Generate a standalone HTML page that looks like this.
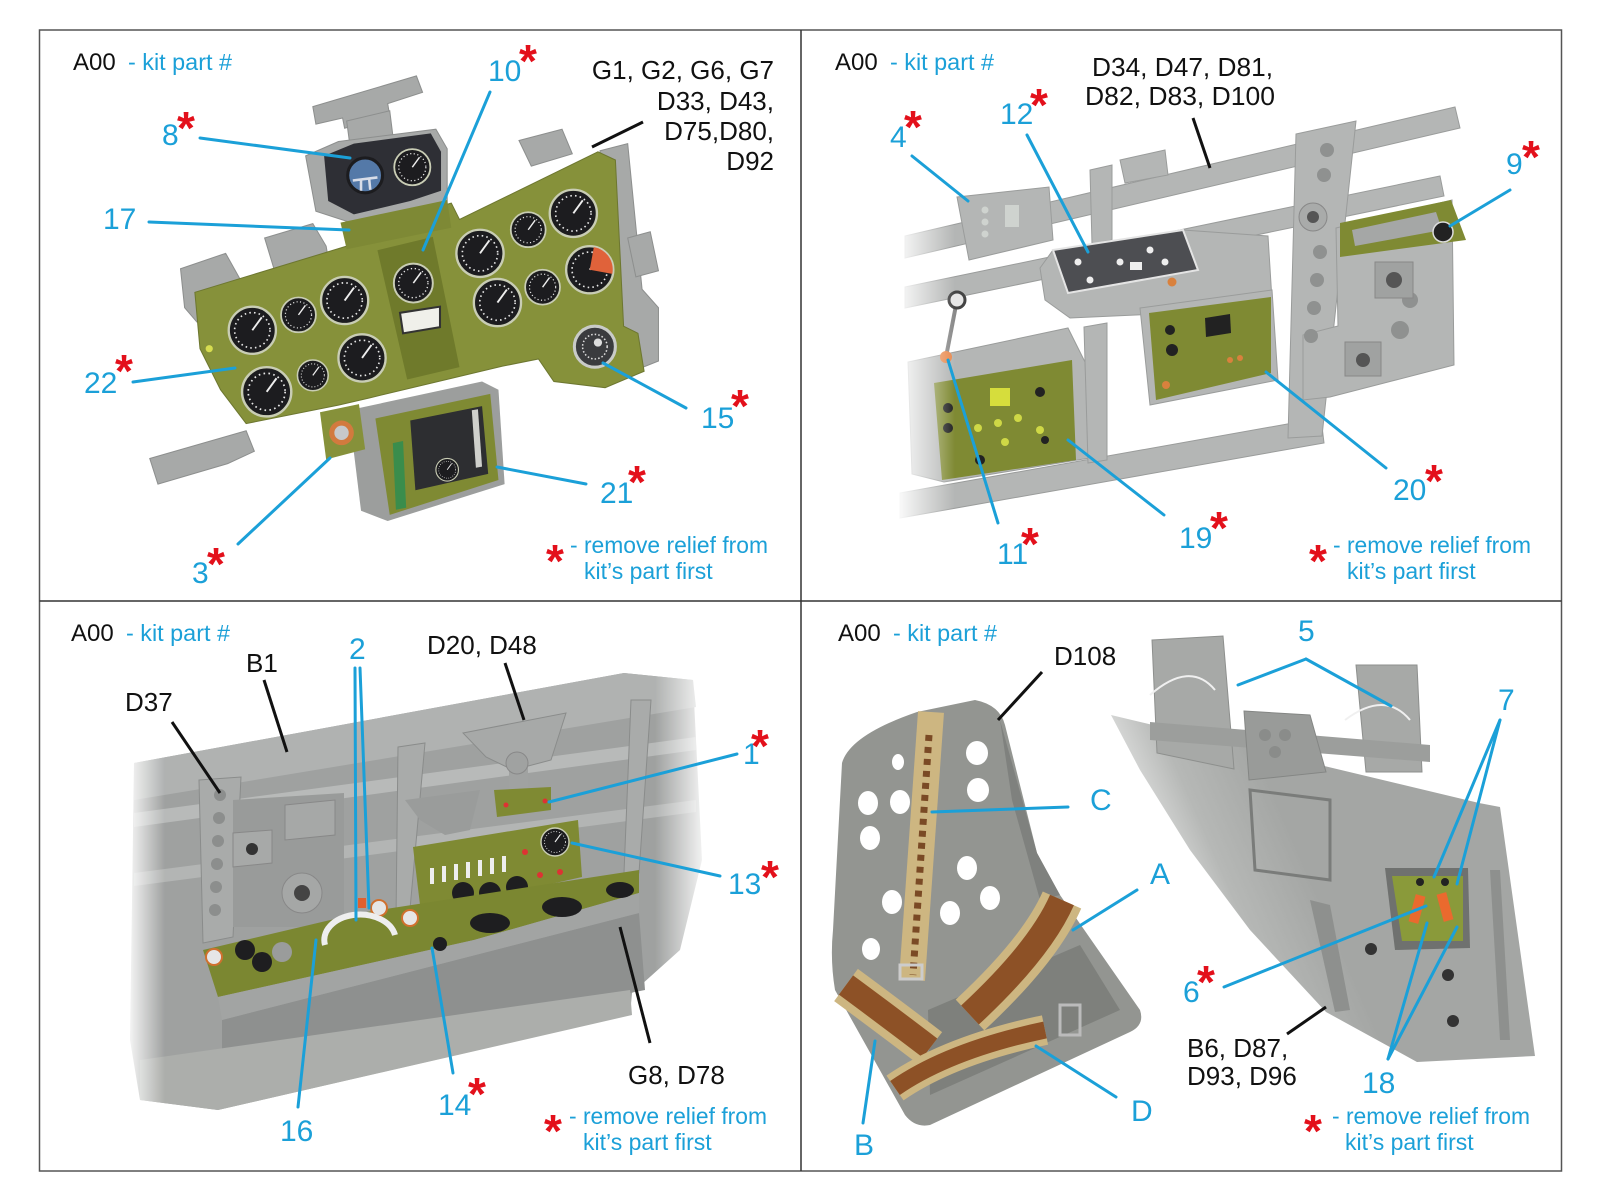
<!DOCTYPE html>
<html><head><meta charset="utf-8">
<style>
html,body{margin:0;padding:0;background:#fff;}
svg{display:block;}
.n{font-family:"Liberation Sans",Arial,sans-serif;font-size:30px;fill:#1ba0d8;}
.k{font-family:"Liberation Sans",Arial,sans-serif;font-size:26px;fill:#111;}
.h{font-family:"Liberation Sans",Arial,sans-serif;font-size:24px;fill:#111;}
.c{font-family:"Liberation Sans",Arial,sans-serif;font-size:23px;fill:#1ba0d8;}
.r{font-family:"Liberation Sans",Arial,sans-serif;font-size:23px;fill:#1ba0d8;}
.a{font-family:"Liberation Sans",Arial,sans-serif;font-size:46px;font-weight:bold;fill:#e3101b;text-anchor:middle;}
.l{stroke:#1ba0d8;stroke-width:3;stroke-linecap:round;fill:none;}
.bl{stroke:#111;stroke-width:3;fill:none;}
</style></head>
<body>
<svg width="1600" height="1200" viewBox="0 0 1600 1200" xmlns="http://www.w3.org/2000/svg" xmlns:xlink="http://www.w3.org/1999/xlink">
<defs>
  <g id="gg">
    <circle r="20" fill="#1c1c1f" stroke="#c9cdb5" stroke-width="2"/>
    <circle r="15" fill="none" stroke="#e8e8e8" stroke-width="1.4" stroke-dasharray="1.3 2.7"/>
    <line x1="0" y1="0" x2="8" y2="-11" stroke="#eee" stroke-width="1.6"/>
  </g>
  <linearGradient id="fadeL" x1="0" x2="1" y1="0" y2="0">
    <stop offset="0" stop-color="#fff" stop-opacity="1"/>
    <stop offset="1" stop-color="#fff" stop-opacity="0"/>
  </linearGradient>
  <linearGradient id="fadeR" x1="0" x2="1" y1="0" y2="0">
    <stop offset="0" stop-color="#fff" stop-opacity="0"/>
    <stop offset="1" stop-color="#fff" stop-opacity="1"/>
  </linearGradient>
  <linearGradient id="boardG" gradientUnits="userSpaceOnUse" x1="1130" y1="900" x2="1290" y2="830">
    <stop offset="0" stop-color="#ffffff"/>
    <stop offset="0.55" stop-color="#b6b8b6"/>
    <stop offset="1" stop-color="#a4a6a4"/>
  </linearGradient>
</defs>

<!-- ============ Q1 photo ============ -->
<g transform="scale(1.02564)">
  <g fill="#a7a9a8" stroke="#8d8f8e" stroke-width="1">
    <polygon points="305,104 406,74 412,90 378,101 380,113 336,125 334,115 308,121"/>
    <polygon points="338,118 380,108 384,140 342,148"/>
    <polygon points="298,152 330,138 425,126 436,145 436,198 345,218 308,206"/>
    <polygon points="176,262 220,247 234,272 234,300 192,314 180,300"/>
    <polygon points="258,232 305,218 318,240 320,252 268,265"/>
    <polygon points="506,137 548,126 558,150 518,162"/>
    <polygon points="585,147 612,140 626,282 642,300 642,352 622,360 606,322"/>
    <polygon points="146,447 240,420 248,440 222,452 154,472"/>
    <polygon points="612,232 634,226 642,264 620,270"/>
  </g>
  <polygon points="190,285 338,240 343,226 440,198 448,214 583,148 600,156 608,318 622,325 628,362 590,378 540,372 525,350 490,357 360,388 330,395 240,413 215,380 195,340" fill="#86913a" stroke="#6d7730" stroke-width="1"/>
  <polygon points="332,217 436,195 440,222 338,243" fill="#7e8935"/>
  <polygon points="316,152 345,140 420,130 430,148 430,186 400,196 345,209 320,196" fill="#2e2f35"/>
  <circle cx="356" cy="171" r="17" fill="#5479a8" stroke="#1c1c1f" stroke-width="3"/>
  <path d="M344,176 L368,173 M352,176 L352,186 M360,175 L361,185" stroke="#d8dde8" stroke-width="2.5" fill="none"/>
  <use xlink:href="#gg" href="#gg" transform="translate(402 163) scale(0.88)"/>
  <polygon points="368,244 422,231 448,358 397,370" fill="#6f7a2b"/>
  <use xlink:href="#gg" href="#gg" transform="translate(403 276) scale(0.95)"/>
  <polygon points="390,305 429,299 429,319 393,325" fill="#f0f0ea" stroke="#333" stroke-width="2"/>
  <use xlink:href="#gg" href="#gg" transform="translate(246 322) scale(1.15)"/>
  <use xlink:href="#gg" href="#gg" transform="translate(291 307) scale(0.85)"/>
  <use xlink:href="#gg" href="#gg" transform="translate(336 293) scale(1.15)"/>
  <use xlink:href="#gg" href="#gg" transform="translate(260 382) scale(1.2)"/>
  <use xlink:href="#gg" href="#gg" transform="translate(305 366) scale(0.75)"/>
  <use xlink:href="#gg" href="#gg" transform="translate(353 349) scale(1.15)"/>
  <use xlink:href="#gg" href="#gg" transform="translate(468 247) scale(1.15)"/>
  <use xlink:href="#gg" href="#gg" transform="translate(515 224) scale(0.85)"/>
  <use xlink:href="#gg" href="#gg" transform="translate(559 208) scale(1.15)"/>
  <use xlink:href="#gg" href="#gg" transform="translate(485 295) scale(1.15)"/>
  <use xlink:href="#gg" href="#gg" transform="translate(529 280) scale(0.85)"/>
  <use xlink:href="#gg" href="#gg" transform="translate(575 263) scale(1.15)"/>
  <path d="M575,263 L579,241 A22,22 0 0 1 597,267 Z" fill="#e0623a"/>
  <circle cx="580" cy="338" r="20" fill="#3a3b3e" stroke="#c9cbc8" stroke-width="3"/>
  <circle cx="580" cy="338" r="12" fill="none" stroke="#ddd" stroke-width="1.5" stroke-dasharray="1.5 2"/>
  <circle cx="583" cy="334" r="4" fill="#ddd"/>
  <circle cx="204" cy="340" r="3.5" fill="#d7dd50"/>
  <polygon points="340,400 470,372 486,380 492,472 378,508 352,498" fill="#9c9e9d"/>
  <polygon points="366,408 478,384 486,468 380,502" fill="#7f8a33"/>
  <polygon points="400,410 470,396 476,462 405,478" fill="#2d2e31"/>
  <polygon points="383,432 393,430 396,495 386,497" fill="#3a8d4c"/>
  <use xlink:href="#gg" href="#gg" transform="translate(436 458) scale(0.55)"/>
  <polygon points="460,400 466,399 470,455 464,456" fill="#cfd0cc"/>
  <polygon points="312,402 350,394 356,438 318,448" fill="#86913a"/>
  <circle cx="333" cy="422" r="12" fill="#d27a3e"/>
  <circle cx="333" cy="422" r="7" fill="#c7c9cb"/>
</g>

<!-- ============ Q2 photo ============ -->
<g fill="#b4b6b5" stroke="#9a9c9b" stroke-width="1">
  <polygon points="905,236 1455,107 1460,128 905,258"/>
  <polygon points="905,287 1440,176 1444,196 905,308"/>
  <polygon points="900,493 1321,418 1324,443 900,518"/>
  <polygon points="1120,160 1165,150 1168,175 1125,183"/>
  <polygon points="1090,170 1112,165 1112,240 1092,244"/>
  <polygon points="1296,134 1356,121 1322,436 1288,438"/>
  <polygon points="1336,228 1452,200 1454,365 1330,397 1303,400 1303,335 1338,326"/>
  <polygon points="1040,268 1053,250 1183,230 1268,236 1272,300 1200,312 1070,318 1045,300"/>
  <polygon points="908,362 1068,328 1085,362 1090,458 944,482 912,474"/>
  <polygon points="1140,308 1272,290 1278,380 1150,405"/>
  <polygon points="1084,327 1107,323 1107,460 1088,463"/>
  <polygon points="957,197 1049,187 1053,240 969,260"/>
</g>
<g fill="#8f9190">
  <circle cx="1327" cy="150" r="7"/><circle cx="1324" cy="175" r="7"/>
  <circle cx="1320" cy="252" r="7"/><circle cx="1317" cy="280" r="7"/>
  <circle cx="1314" cy="308" r="7"/><circle cx="1311" cy="336" r="7"/>
  <circle cx="1400" cy="330" r="9"/><circle cx="1410" cy="300" r="8"/>
</g>
<circle cx="1313" cy="217" r="14" fill="#a9abaa" stroke="#888" stroke-width="1"/>
<circle cx="1313" cy="217" r="6" fill="#555"/>
<rect x="1375" y="262" width="38" height="36" fill="#a0a2a1" stroke="#888"/>
<circle cx="1394" cy="280" r="8" fill="#555"/>
<rect x="1345" y="342" width="36" height="34" fill="#a0a2a1" stroke="#888"/>
<circle cx="1363" cy="360" r="7" fill="#555"/>
<polygon points="1340,223 1451,200 1466,240 1340,257" fill="#7f8a33"/>
<polygon points="1352,230 1436,212 1442,230 1355,246" fill="#a5a7a6"/>
<circle cx="1443" cy="232" r="10" fill="#222" stroke="#ddd" stroke-width="1.5"/>
<polygon points="1053,250 1183,230 1198,270 1068,293" fill="#4d4e52" stroke="#e4e4e4" stroke-width="2"/>
<g fill="#eee"><circle cx="1078" cy="262" r="3.5"/><circle cx="1090" cy="280" r="3.5"/><circle cx="1120" cy="262" r="3.5"/><circle cx="1150" cy="250" r="3.5"/><circle cx="1165" cy="262" r="3.5"/><rect x="1130" y="262" width="12" height="8"/></g>
<circle cx="1172" cy="282" r="4.5" fill="#d9813d"/>
<g fill="#cfd3cf"><circle cx="985" cy="210" r="3.5"/><circle cx="985" cy="222" r="3.5"/><circle cx="985" cy="234" r="3.5"/><rect x="1005" y="205" width="14" height="22"/></g>
<polygon points="934,383 1072,360 1076,460 942,480" fill="#7f8a33"/>
<rect x="990" y="388" width="20" height="18" fill="#d6dd3c"/>
<g fill="#cfd846"><circle cx="978" cy="428" r="4"/><circle cx="998" cy="423" r="4"/><circle cx="1018" cy="418" r="4"/><circle cx="1005" cy="442" r="4"/><circle cx="1040" cy="430" r="4"/></g>
<g fill="#222"><circle cx="948" cy="408" r="5"/><circle cx="948" cy="428" r="5"/><circle cx="1040" cy="392" r="5"/><circle cx="1045" cy="440" r="4"/><circle cx="980" cy="460" r="5"/></g>
<polygon points="1149,313 1271,297 1271,373 1156,400" fill="#7f8a33"/>
<polygon points="1205,318 1230,314 1231,333 1206,337" fill="#222"/>
<g fill="#222"><circle cx="1170" cy="330" r="5"/><circle cx="1172" cy="350" r="6"/></g>
<g fill="#d9813d"><circle cx="1166" cy="385" r="4"/><circle cx="1230" cy="360" r="3"/><circle cx="1240" cy="358" r="3"/></g>
<line x1="957" y1="300" x2="946" y2="357" stroke="#8a8a8a" stroke-width="4"/>
<circle cx="957" cy="300" r="8" fill="#e6e6e6" stroke="#444" stroke-width="3"/>
<circle cx="946" cy="357" r="6" fill="#e98a4e"/>
<rect x="895" y="150" width="60" height="400" fill="url(#fadeL)"/>

<!-- ============ Q3 photo ============ -->
<polygon points="134,763 624,673 693,680 702,860 680,950 632,993 630,1015 218,1110 140,1100 130,1040" fill="#9fa1a0"/>
<polygon points="134,763 624,673 693,680 696,707 134,800" fill="#b0b2b1"/>
<polygon points="134,813 696,737 696,750 134,827" fill="#b8bab9"/>
<polygon points="134,873 696,800 696,812 134,886" fill="#b3b5b4"/>
<polygon points="222,1020 639,913 645,990 222,1075" fill="#8e908f"/>
<polygon points="140,1060 630,990 632,1015 218,1110 140,1100" fill="#acaeab"/>
<polygon points="199,780 241,777 233,937 203,943" fill="#a9abaa" stroke="#8a8c8b"/>
<g fill="#8c8e8d"><circle cx="220" cy="795" r="6"/><circle cx="219" cy="818" r="6"/><circle cx="218" cy="841" r="6"/><circle cx="217" cy="864" r="6"/><circle cx="216" cy="887" r="6"/><circle cx="215" cy="910" r="6"/></g>
<polygon points="233,800 344,793 344,927 233,927" fill="#999b9a"/>
<polygon points="233,833 272,830 272,863 233,867" fill="#a7a9a8" stroke="#888"/>
<circle cx="252" cy="849" r="6" fill="#333"/>
<polygon points="285,805 335,800 335,835 285,840" fill="#a6a8a7" stroke="#888"/>
<circle cx="302" cy="893" r="20" fill="#a5a7a6" stroke="#888"/>
<circle cx="302" cy="893" r="8" fill="#444"/>
<polygon points="398,747 425,743 409,920 396,920" fill="#a9abaa" stroke="#8a8c8b"/>
<polygon points="631,700 651,700 639,873 624,873" fill="#a9abaa" stroke="#8a8c8b"/>
<polygon points="405,800 480,790 470,830 445,835 420,820" fill="#9a9c9b"/>
<polygon points="463,733 566,713 551,760 513,770 486,757" fill="#a7a9a8" stroke="#8a8c8b"/>
<rect x="509" y="760" width="19" height="30" fill="#a0a2a1"/>
<circle cx="517" cy="763" r="11" fill="#a0a2a1" stroke="#888"/>
<polygon points="494,790 551,787 551,810 497,817" fill="#7f8a33"/>
<g fill="#d33"><circle cx="506" cy="805" r="2.5"/><circle cx="545" cy="801" r="2.5"/></g>
<polygon points="413,847 578,820 582,877 421,913" fill="#7f8a33"/>
<g fill="#eee"><rect x="430" y="868" width="4" height="16"/><rect x="442" y="866" width="4" height="16"/><rect x="454" y="864" width="4" height="16"/><rect x="466" y="862" width="4" height="16"/><rect x="478" y="860" width="4" height="16"/><rect x="490" y="858" width="4" height="16"/><rect x="502" y="856" width="4" height="16"/></g>
<g fill="#1e1e20"><circle cx="463" cy="893" r="11"/><circle cx="490" cy="893" r="11"/><circle cx="517" cy="887" r="11"/></g>
<use xlink:href="#gg" href="#gg" transform="translate(555 842) scale(0.7)"/>
<g fill="#d33"><circle cx="525" cy="852" r="3"/><circle cx="540" cy="875" r="3"/><circle cx="560" cy="872" r="3"/></g>
<polygon points="203,950 360,913 639,870 639,893 474,940 218,997" fill="#7b8731"/>
<polygon points="218,997 474,940 639,893 639,913 222,1020" fill="#a2a4a3"/>
<g fill="#1e1e20"><ellipse cx="490" cy="923" rx="20" ry="10"/><ellipse cx="562" cy="907" rx="20" ry="10"/><ellipse cx="620" cy="890" rx="14" ry="8"/><circle cx="245" cy="950" r="10"/><circle cx="262" cy="962" r="10"/><circle cx="440" cy="944" r="7"/></g>
<circle cx="282" cy="952" r="10" fill="#9a9c9b"/>
<g fill="#e6e6e6" stroke="#d0702e" stroke-width="2"><circle cx="379" cy="908" r="8"/><circle cx="410" cy="918" r="8"/><circle cx="214" cy="957" r="8"/></g>
<path d="M325,945 A35,25 0 0 1 395,935" stroke="#eee" stroke-width="6" fill="none"/>
<rect x="358" y="898" width="8" height="10" fill="#e0602f"/>
<rect x="125" y="740" width="40" height="380" fill="url(#fadeL)"/>
<rect x="655" y="660" width="55" height="360" fill="url(#fadeR)"/>

<!-- ============ Q4 photo ============ -->
<path d="M842,763 Q850,735 917,712 L975,700 Q1000,705 1005,725 L1037,853 L1060,895 L1140,1010 Q1145,1025 1130,1032 L930,1125 Q915,1128 905,1115 L835,990 Q830,960 833,930 Z" fill="#939591"/>
<polygon points="1000,720 1037,853 1060,895 1040,900 1012,800" fill="#7f817e"/>
<polygon points="928,1010 1080,945 1120,1010 930,1095" fill="#7e807c"/>
<g fill="#fff">
  <ellipse cx="898" cy="762" rx="6" ry="8"/><ellipse cx="977" cy="753" rx="11" ry="12"/>
  <ellipse cx="978" cy="790" rx="11" ry="12"/><ellipse cx="868" cy="803" rx="10" ry="12"/>
  <ellipse cx="900" cy="802" rx="10" ry="12"/><ellipse cx="870" cy="838" rx="10" ry="12"/>
  <ellipse cx="967" cy="868" rx="10" ry="12"/><ellipse cx="990" cy="898" rx="10" ry="12"/>
  <ellipse cx="892" cy="902" rx="10" ry="12"/><ellipse cx="950" cy="913" rx="10" ry="12"/>
  <ellipse cx="871" cy="949" rx="9" ry="11"/>
</g>
<path d="M931,712 L912,980" stroke="#cdb681" stroke-width="26" fill="none"/>
<path d="M929,735 L913,975" stroke="#7a4a25" stroke-width="7" stroke-dasharray="6 6" fill="none"/>
<path d="M1062,900 Q1040,950 970,1015" stroke="#cdb681" stroke-width="42" fill="none"/>
<path d="M1062,900 Q1040,950 970,1015" stroke="#8d5126" stroke-width="26" fill="none"/>
<path d="M846,985 Q880,1010 930,1048" stroke="#cdb681" stroke-width="40" fill="none"/>
<path d="M846,985 Q880,1010 930,1048" stroke="#8d5126" stroke-width="24" fill="none"/>
<path d="M895,1088 Q950,1050 1045,1030" stroke="#cdb681" stroke-width="30" fill="none"/>
<path d="M895,1088 Q950,1050 1045,1030" stroke="#8d5126" stroke-width="17" fill="none"/>
<rect x="900" y="965" width="22" height="14" fill="none" stroke="#ccc" stroke-width="3"/>
<rect x="1060" y="1005" width="20" height="30" fill="none" stroke="#bbb" stroke-width="3"/>
<polygon points="1111,715 1479,803 1500,807 1535,1056 1417,1062 1326,1012 1250,930 1190,850 1140,770" fill="url(#boardG)"/>
<polygon points="1152,640 1223,636 1234,769 1157,753" fill="#a7a9a7" stroke="#8d8f8d"/>
<polygon points="1356,665 1417,665 1422,772 1366,772" fill="#a7a9a7" stroke="#8d8f8d"/>
<polygon points="1150,722 1430,745 1430,762 1150,740" fill="#9c9e9c"/>
<polygon points="1244,711 1310,715 1326,772 1249,780" fill="#999b99" stroke="#848684"/>
<g fill="#8a8c8a"><circle cx="1265" cy="735" r="6"/><circle cx="1285" cy="735" r="6"/><circle cx="1275" cy="752" r="6"/></g>
<polygon points="1250,790 1330,800 1330,880 1255,870" fill="none" stroke="#7a7c7a" stroke-width="3"/>
<polygon points="1310,900 1330,905 1350,1010 1335,1012" fill="#8e908e"/>
<polygon points="1385,868 1468,868 1470,948 1395,950" fill="#6f716f"/>
<polygon points="1392,876 1463,876 1463,941 1402,941" fill="#8a9a3a"/>
<rect x="1412" y="895" width="10" height="28" fill="#ea6a2e" transform="rotate(15 1417 909)"/>
<rect x="1440" y="893" width="10" height="28" fill="#ea6a2e" transform="rotate(-15 1445 907)"/>
<g fill="#222"><circle cx="1420" cy="882" r="4"/><circle cx="1445" cy="882" r="4"/></g>
<g fill="#333"><circle cx="1371" cy="949" r="6"/><circle cx="1448" cy="975" r="6"/><circle cx="1453" cy="1021" r="6"/></g>
<polygon points="1490,870 1500,870 1510,1040 1500,1040" fill="#8e908e"/>
<path d="M1150,695 Q1190,660 1215,690" stroke="#f0f0f0" stroke-width="2" fill="none"/>
<path d="M1345,720 Q1385,690 1410,720" stroke="#f0f0f0" stroke-width="2" fill="none"/>

<!-- ============ frame ============ -->
<rect x="39.5" y="30" width="1522" height="1141" fill="none" stroke="#555" stroke-width="1.5"/>
<line x1="801" y1="30" x2="801" y2="1171" stroke="#333" stroke-width="1.5"/>
<line x1="39.5" y1="601" x2="1561.5" y2="601" stroke="#333" stroke-width="1.5"/>

<!-- ============ Q1 labels ============ -->
<text class="h" x="73" y="70">A00</text><text class="c" x="128" y="70" textLength="104" lengthAdjust="spacingAndGlyphs">- kit part #</text>
<g class="l">
  <line x1="200" y1="138" x2="350" y2="158"/>
  <line x1="149" y1="222" x2="349" y2="230"/>
  <line x1="490" y1="92" x2="423" y2="250"/>
  <line x1="133" y1="382" x2="235" y2="368"/>
  <line x1="686" y1="408" x2="603" y2="363"/>
  <line x1="586" y1="484" x2="497" y2="467"/>
  <line x1="238" y1="544" x2="330" y2="458"/>
</g>
<line class="bl" x1="643" y1="122" x2="592" y2="147"/>
<text class="n" x="162" y="145">8</text><text class="a" x="186" y="144">*</text>
<text class="n" x="103" y="229">17</text>
<text class="n" x="488" y="81">10</text><text class="a" x="528" y="77">*</text>
<text class="n" x="84" y="393">22</text><text class="a" x="124" y="387">*</text>
<text class="n" x="192" y="583">3</text><text class="a" x="216" y="580">*</text>
<text class="n" x="701" y="428">15</text><text class="a" x="740" y="422">*</text>
<text class="n" x="600" y="503">21</text><text class="a" x="637" y="498">*</text>
<text class="k" x="774" y="79" text-anchor="end">G1, G2, G6, G7</text>
<text class="k" x="774" y="110" text-anchor="end">D33, D43,</text>
<text class="k" x="774" y="140" text-anchor="end">D75,D80,</text>
<text class="k" x="774" y="170" text-anchor="end">D92</text>
<text class="a" x="555" y="577">*</text>
<text class="r" x="570" y="553" textLength="198" lengthAdjust="spacingAndGlyphs">- remove relief from</text>
<text class="r" x="584" y="579">kit’s part first</text>

<!-- ============ Q2 labels ============ -->
<text class="h" x="835" y="70">A00</text><text class="c" x="890" y="70" textLength="104" lengthAdjust="spacingAndGlyphs">- kit part #</text>
<text class="k" x="1092" y="76" textLength="181" lengthAdjust="spacingAndGlyphs">D34, D47, D81,</text>
<text class="k" x="1085" y="105" textLength="190" lengthAdjust="spacingAndGlyphs">D82, D83, D100</text>
<line class="bl" x1="1193" y1="118" x2="1210" y2="168"/>
<g class="l">
  <line x1="912" y1="156" x2="968" y2="201"/>
  <line x1="1027" y1="135" x2="1088" y2="252"/>
  <line x1="1510" y1="190" x2="1450" y2="226"/>
  <line x1="1386" y1="468" x2="1266" y2="372"/>
  <line x1="1164" y1="515" x2="1068" y2="440"/>
  <line x1="998" y1="523" x2="948" y2="360"/>
</g>
<text class="n" x="890" y="147">4</text><text class="a" x="913" y="143">*</text>
<text class="n" x="1000" y="124">12</text><text class="a" x="1039" y="121">*</text>
<text class="n" x="1506" y="174">9</text><text class="a" x="1531" y="173">*</text>
<text class="n" x="1393" y="500">20</text><text class="a" x="1434" y="497">*</text>
<text class="n" x="1179" y="548">19</text><text class="a" x="1219" y="544">*</text>
<text class="n" x="997" y="564">11</text><text class="a" x="1030" y="560">*</text>
<text class="a" x="1318" y="577">*</text>
<text class="r" x="1333" y="553" textLength="198" lengthAdjust="spacingAndGlyphs">- remove relief from</text>
<text class="r" x="1347" y="579">kit’s part first</text>

<!-- ============ Q3 labels ============ -->
<text class="h" x="71" y="641">A00</text><text class="c" x="126" y="641" textLength="104" lengthAdjust="spacingAndGlyphs">- kit part #</text>
<text class="k" x="246" y="672">B1</text>
<text class="k" x="125" y="711">D37</text>
<text class="k" x="427" y="654">D20, D48</text>
<text class="k" x="628" y="1084">G8, D78</text>
<g class="bl">
  <line x1="172" y1="722" x2="220" y2="793"/>
  <line x1="264" y1="680" x2="287" y2="752"/>
  <line x1="505" y1="663" x2="524" y2="720"/>
  <line x1="650" y1="1043" x2="620" y2="927"/>
</g>
<g class="l">
  <line x1="355" y1="668" x2="356" y2="920"/>
  <line x1="360" y1="668" x2="369" y2="908"/>
  <line x1="737" y1="754" x2="549" y2="802"/>
  <line x1="720" y1="876" x2="572" y2="843"/>
  <line x1="453" y1="1073" x2="432" y2="948"/>
  <line x1="298" y1="1107" x2="316" y2="940"/>
</g>
<text class="n" x="349" y="659">2</text>
<text class="n" x="743" y="764">1</text><text class="a" x="760" y="762">*</text>
<text class="n" x="728" y="894">13</text><text class="a" x="770" y="893">*</text>
<text class="n" x="438" y="1115">14</text><text class="a" x="477" y="1110">*</text>
<text class="n" x="280" y="1141">16</text>
<text class="a" x="553" y="1147">*</text>
<text class="r" x="569" y="1124" textLength="198" lengthAdjust="spacingAndGlyphs">- remove relief from</text>
<text class="r" x="583" y="1150">kit’s part first</text>

<!-- ============ Q4 labels ============ -->
<text class="h" x="838" y="641">A00</text><text class="c" x="893" y="641" textLength="104" lengthAdjust="spacingAndGlyphs">- kit part #</text>
<text class="k" x="1054" y="665">D108</text>
<text class="k" x="1187" y="1057">B6, D87,</text>
<text class="k" x="1187" y="1085">D93, D96</text>
<g class="bl">
  <line x1="1042" y1="672" x2="998" y2="720"/>
  <line x1="1287" y1="1034" x2="1326" y2="1007"/>
</g>
<g class="l">
  <line x1="1306" y1="659" x2="1238" y2="685"/>
  <line x1="1306" y1="659" x2="1391" y2="706"/>
  <line x1="1500" y1="720" x2="1434" y2="877"/>
  <line x1="1500" y1="720" x2="1457" y2="884"/>
  <line x1="932" y1="812" x2="1068" y2="807"/>
  <line x1="1137" y1="890" x2="1073" y2="930"/>
  <line x1="1116" y1="1097" x2="1036" y2="1046"/>
  <line x1="863" y1="1123" x2="875" y2="1041"/>
  <line x1="1224" y1="987" x2="1426" y2="906"/>
  <line x1="1388" y1="1059" x2="1427" y2="923"/>
  <line x1="1388" y1="1059" x2="1457" y2="927"/>
</g>
<text class="n" x="1298" y="641">5</text>
<text class="n" x="1498" y="710">7</text>
<text class="n" x="1090" y="810">C</text>
<text class="n" x="1150" y="884">A</text>
<text class="n" x="1131" y="1121">D</text>
<text class="n" x="854" y="1155">B</text>
<text class="n" x="1183" y="1002">6</text><text class="a" x="1206" y="998">*</text>
<text class="n" x="1362" y="1093">18</text>
<text class="a" x="1313" y="1147">*</text>
<text class="r" x="1332" y="1124" textLength="198" lengthAdjust="spacingAndGlyphs">- remove relief from</text>
<text class="r" x="1345" y="1150">kit’s part first</text>
</svg>
</body></html>
